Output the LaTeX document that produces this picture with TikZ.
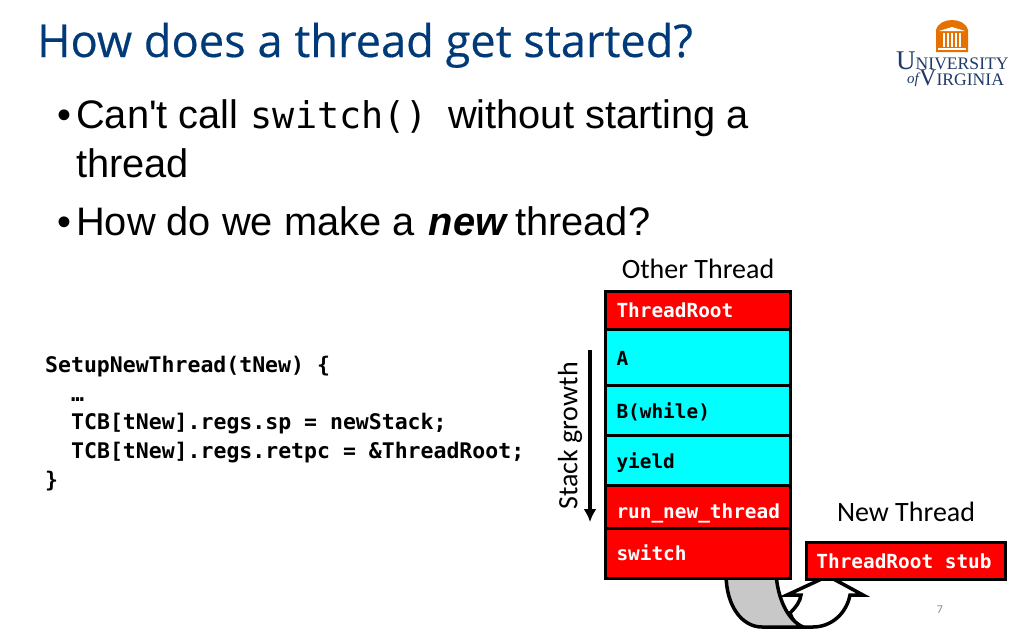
\documentclass[tikz,border=0pt]{standalone}
\usepackage{fontspec}
\usetikzlibrary{arrows.meta}
\setmainfont{Liberation Sans}
\newfontfamily\titlefont[FakeBold=0.35]{Open Sans}
\newfontfamily\labelfont{Carlito}
\newfontfamily\codefont{DejaVu Sans Mono}
\newfontfamily\logofont{Liberation Serif}
\newcommand{\boxtxt}[2]{\raisebox{#1}[0pt][0pt]{#2}}
\definecolor{titleblue}{HTML}{003A78}
\definecolor{uvaorange}{HTML}{E57200}
\definecolor{uvablue}{HTML}{1F3A68}
\definecolor{pagenum}{HTML}{8C8C8C}
\definecolor{ribbon}{HTML}{C8C8C8}
\definecolor{stackcyan}{HTML}{00FFFF}
\definecolor{stackred}{HTML}{FF0000}
\tikzset{
  stackbox/.style={draw=black,line width=3pt,minimum width=185pt,inner sep=0pt,anchor=north west,text width=163pt,align=left},
  redbox/.style={stackbox,fill=stackred,text=white,font=\codefont\bfseries\fontsize{19.4}{24}\selectfont},
  cyanbox/.style={stackbox,fill=stackcyan,text=black,font=\codefont\bfseries\fontsize{19.4}{24}\selectfont},
  bullettext/.style={anchor=base west,inner sep=0pt,font=\fontsize{39.8}{44}\selectfont},
  codeline/.style={anchor=base west,inner sep=0pt,font=\codefont\bfseries\fontsize{21.5}{26}\selectfont},
  biglabel/.style={inner sep=0pt,font=\labelfont\fontsize{28}{32}\selectfont},
  logotext/.style={inner sep=0pt,text=uvablue,font=\logofont},
}
\begin{document}
\begin{tikzpicture}[x=1pt,y=-1pt]
\useasboundingbox (0,0) rectangle (1024,640);
\fill[white] (0,0) rectangle (1024,640);
% title
\node[anchor=base west,inner sep=0pt,text=titleblue,font=\titlefont\fontsize{45.2}{50}\selectfont] (title) at (37,57) {How does a thread get started?};
% bullets
\node[bullettext] (b1) at (57,128) {•};
\node[bullettext] (l1) at (76,128) {Can\textquotesingle t call\hspace{1pt} {\codefont\fontsize{36.8}{44}\selectfont switch()}\hspace{9pt} without starting a};
\node[bullettext] (l2) at (76,177) {thread};
\node[bullettext] (b2) at (57,235) {•};
\node[bullettext] (l3) at (76,235) {How do we make a\hspace{3pt} {\bfseries\itshape new}\hspace{-2pt} thread?};
% code
\node[codeline] (c1) at (45,372) {SetupNewThread(tNew) \{};
\node[codeline] (c2) at (71,401) {…};
\node[codeline] (c3) at (71,429) {TCB[tNew].regs.sp = newStack;};
\node[codeline] (c4) at (71,458) {TCB[tNew].regs.retpc = \&ThreadRoot;};
\node[codeline] (c5) at (45,487) {\}};
% curved arrow (behind the boxes)
\filldraw[fill=white,draw=black,line width=3.5pt,line join=miter]
  (790,613) .. controls (796,607) and (800,602) .. (801,595) -- (787,595) -- (828,576)
  -- (863,595) -- (850,595) .. controls (846,615) and (830,627) .. (813,627)
  -- (800,627) .. controls (796,625) and (792,619) .. (790,613) -- cycle;
\filldraw[fill=ribbon,draw=black,line width=3.5pt]
  (726,574) .. controls (726,606) and (742,627) .. (762,627)
  -- (803,627) .. controls (788,620) and (778,600) .. (776,574);
% stack
\node[biglabel,anchor=center] (other) at (698,269) {Other Thread};
\node[redbox,minimum height=38pt] (s1) at (604,290) {\boxtxt{-7pt}{ThreadRoot}};
\node[cyanbox,minimum height=56pt] (s2) at (604,328) {\boxtxt{-8pt}{A}};
\node[cyanbox,minimum height=50pt] (s3) at (604,384) {\boxtxt{-8pt}{B(while)}};
\node[cyanbox,minimum height=50pt] (s4) at (604,434) {\boxtxt{-8pt}{yield}};
\node[redbox,minimum height=43pt] (s5) at (604,484) {\boxtxt{-11pt}{run\_new\_thread}};
\node[redbox,minimum height=50pt] (s6) at (604,527) {\boxtxt{-7pt}{switch}};
% growth
\node[biglabel,rotate=90,anchor=center] (growth) at (570,436) {Stack growth};
\coordinate (gtop) at (590,350);
\coordinate (gbot) at (590,522);
\draw[line width=3.5pt,-{Latex[length=13pt,width=13pt]}] (gtop) -- (gbot);
% new thread
\node[biglabel,anchor=center] (newt) at (906,512) {New Thread};
\node[draw=black,line width=3pt,fill=stackred,text=white,minimum width=199pt,minimum height=37pt,inner sep=0pt,font=\codefont\bfseries\fontsize{19.4}{24}\selectfont,anchor=north west] (stub) at (805,541) {ThreadRoot stub\hspace*{4pt}};
\node[inner sep=0pt,text=pagenum,font=\labelfont\fontsize{12}{14}\selectfont] (pnum) at (940,610) {7};
% logo
\fill[uvaorange] (936,39) -- (936,30) .. controls (938,23) and (945,20) .. (952,20) .. controls (959,20) and (966,23) .. (968,30) -- (968,52) -- (936,52) -- cycle;
\fill[white] (939,31) -- (952,27) -- (965,31) -- cycle;
\foreach \xx in {943,947,951,955,959} {\fill[white] (\xx,33) rectangle ++(1.6,14);}
\fill[white] (938,48) rectangle (966,49.5);
\node[logotext,anchor=base west] (logo1) at (896,69.5) {\fontsize{27}{30}\selectfont U\fontsize{17.6}{22}\selectfont NIVERSITY};
\node[logotext,anchor=base west] (logo2) at (907,83) {\fontsize{15}{14}\selectfont\itshape of};
\node[logotext,anchor=base west] (logo3) at (919,85) {\fontsize{24}{28}\selectfont V\fontsize{17.6}{22}\selectfont IRGINIA};
\end{tikzpicture}
\end{document}
